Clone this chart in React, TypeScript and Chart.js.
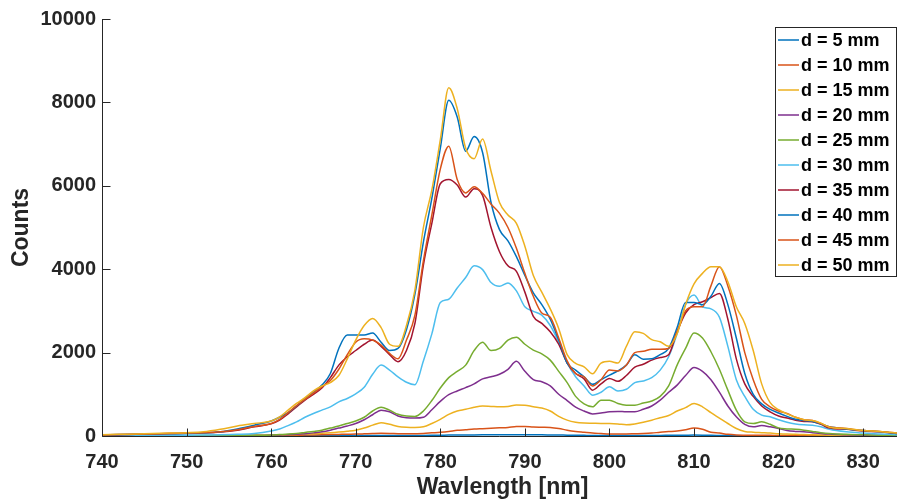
import React, { useEffect, useRef } from 'react';
import { Chart, registerables } from 'chart.js';

Chart.register(...registerables);

// Wavelength grid (nm)
const wavelengths = [
  740, 742, 744, 746, 748, 750, 752, 754, 756, 758,
  760, 761, 762, 763, 764, 765, 766, 767, 768, 769,
  770, 771, 772, 773, 774, 775, 776, 777, 778, 779,
  780, 781, 782, 783, 784, 785, 786, 787, 788, 789,
  790, 791, 792, 793, 794, 795, 796, 797, 798, 799,
  800, 801, 802, 803, 804, 805, 806, 807, 808, 809,
  810, 811, 812, 813, 814, 815, 816, 817, 818, 819,
  820, 821, 822, 823, 824, 825, 826,
  828, 830, 832, 834,
];

const d5 = [
  2, 2, 2, 3, 3, 3, 3, 4, 4, 5,
  5, 6, 6, 7, 7, 8, 8, 9, 9, 10,
  10, 11, 12, 12, 12, 11, 11, 12, 13, 15,
  18, 22, 24, 25, 26, 27, 28, 28, 29, 30,
  30, 29, 28, 26, 24, 20, 17, 15, 13, 12,
  11, 11, 11, 11, 12, 13, 14, 16, 18, 20,
  22, 20, 16, 13, 10, 8, 6, 5, 5, 4,
  4, 4, 3, 3, 3, 3, 3,
  2, 2, 2, 2,
];
const d10 = [
  2, 3, 3, 4, 5, 5, 6, 7, 8, 10,
  12, 14, 16, 18, 22, 26, 30, 34, 38, 42,
  45, 52, 60, 65, 62, 55, 52, 55, 60, 75,
  90, 110, 135, 150, 165, 175, 185, 195, 205, 230,
  230, 215, 210, 205, 180, 140, 110, 90, 70, 60,
  50, 48, 50, 55, 60, 70, 90, 105, 120, 150,
  190, 160, 90, 70, 40, 25, 20, 18, 16, 15,
  14, 13, 12, 11, 10, 10, 9,
  8, 7, 6, 5,
];
const d15 = [
  3, 4, 5, 5, 6, 7, 8, 10, 12, 15,
  20, 25, 30, 38, 46, 55, 65, 78, 95, 115,
  140, 190, 260, 320, 280, 230, 210, 205, 220, 300,
  400, 520, 600, 640, 690, 720, 710, 700, 710, 745,
  740, 700, 670, 600, 470, 380, 330, 310, 305, 300,
  300, 290, 270, 290, 330, 380, 440, 490, 600, 680,
  780, 700, 560, 430, 300, 180, 110, 90, 80, 70,
  55, 45, 40, 35, 30, 25, 20,
  15, 12, 10, 8,
];
const d20 = [
  4, 4, 5, 5, 6, 7, 8, 9, 10, 12,
  18, 25, 32, 40, 55, 75, 100, 140, 190, 240,
  300, 390, 510, 620, 580, 480, 440, 430, 450, 630,
  830, 990, 1080, 1160, 1250, 1370, 1420, 1480, 1600, 1790,
  1550, 1350, 1300, 1200, 1000, 850, 690, 600, 530, 550,
  580, 590, 580, 580, 640, 720, 860, 1050, 1220, 1450,
  1640, 1550, 1350, 1050, 720, 460, 280, 220, 250, 220,
  180, 130, 110, 100, 80, 60, 45,
  30, 20, 15, 10,
];
const d25 = [
  5, 5, 6, 6, 7, 8, 9, 10, 12, 15,
  25, 35, 45, 60, 85, 110, 140, 190, 240, 300,
  360, 450, 600, 690, 620, 520, 480, 470, 600, 850,
  1150, 1400, 1550, 1700, 2050, 2250, 2050, 2100, 2300, 2370,
  2200, 2060, 1970, 1820, 1550, 1280, 950, 770, 700, 860,
  860, 780, 740, 740, 790, 840, 950, 1200, 1700, 2100,
  2470, 2350, 2020, 1600, 1100, 620, 340, 300, 340, 280,
  190, 170, 160, 140, 110, 80, 60,
  40, 30, 20, 15,
];
const d30 = [
  10, 12, 14, 16, 18, 20, 25, 30, 40, 60,
  120, 170, 250, 340, 450, 540, 620, 700, 820, 900,
  1010, 1170, 1480, 1700, 1580, 1420, 1290, 1230, 1800, 2450,
  3200, 3280, 3550, 3800, 4080, 3990, 3680, 3590, 3670, 3480,
  3100, 2990, 2900, 2650, 2250, 1750, 1420, 1200, 980, 1050,
  1180, 1080, 1120, 1280, 1320, 1400, 1580, 1900, 2450, 3150,
  3380, 3100, 3050, 2850, 2150, 1350, 950, 640, 500, 460,
  390, 330, 290, 270, 260, 220, 160,
  100, 70, 50, 30,
];
const d35 = [
  20, 30, 40, 50, 60, 65, 75, 95, 140, 220,
  290, 380, 530, 700, 860, 1000, 1150, 1400, 1700, 1900,
  2050, 2200, 2300, 2150, 1950, 1780, 2050, 2700, 4100, 5100,
  6050, 6150, 6020, 5730, 5930, 5770, 5000, 4420, 4080, 3950,
  3450, 2870, 2700, 2500, 2200, 1750, 1500, 1370, 1100, 1250,
  1380, 1310, 1450, 1650, 1720, 1820, 1880, 1950, 2500, 2950,
  3150, 3220, 3320, 3420, 2800, 1850, 1250, 950, 720, 580,
  480, 430, 380, 350, 340, 280, 190,
  160, 120, 100, 60,
];
const d40 = [
  30, 35, 40, 50, 55, 60, 70, 100, 170, 260,
  360, 450, 560, 720, 890, 1050, 1220, 1500, 2100, 2420,
  2420, 2420, 2470, 2250, 2050, 2100, 2550, 3400, 4650, 5700,
  6900, 8050, 7650, 6830, 7180, 6800, 5600, 4950, 4680, 4300,
  3850, 3430, 3150, 2800, 2300, 1750, 1580, 1420, 1240, 1350,
  1460, 1560, 1700, 1950, 1840, 1850, 1950, 2100, 2600, 3200,
  3200, 3150, 3350, 3660, 3150, 2350, 1500, 1000, 770, 640,
  550, 470, 400, 370, 350, 290, 220,
  170, 130, 100, 60,
];
const d45 = [
  25, 35, 40, 50, 60, 70, 80, 100, 150, 230,
  300, 400, 560, 730, 880, 1030, 1180, 1330, 1600, 1950,
  2250, 2330, 2300, 2180, 1980, 1850, 2300, 2900, 4200, 5300,
  6400, 6950, 6150, 5830, 5980, 5820, 5560, 5340, 5000, 4500,
  3900, 3350, 2950, 2850, 2350, 1800, 1500, 1420, 1200, 1350,
  1580, 1560, 1700, 2000, 2030, 2080, 2080, 2100, 2500, 3000,
  3100, 3100, 3600, 4060, 3600, 2900, 2000, 1350, 880, 700,
  600, 540, 450, 390, 370, 300, 220,
  180, 130, 110, 70,
];
const d50 = [
  30, 40, 50, 60, 70, 80, 100, 160, 240, 300,
  360, 460, 620, 780, 920, 1080, 1200, 1280, 1450, 1850,
  2300, 2650, 2820, 2600, 2200, 2150, 2650, 3500, 5000, 5900,
  7100, 8350, 7850, 6900, 6650, 7120, 6350, 5600, 5300, 5100,
  4550, 3850, 3450, 3050, 2580, 1950, 1740, 1660, 1490, 1750,
  1790, 1750, 2150, 2500, 2460, 2310, 2260, 2150, 2450, 3150,
  3650, 3900, 4060, 4060, 3700, 3100, 2700, 2050, 1250, 800,
  630, 530, 450, 390, 370, 310, 210,
  180, 130, 110, 70,
];

const seriesLabels = [
  'd = 5 mm', 'd = 10 mm', 'd = 15 mm', 'd = 20 mm', 'd = 25 mm',
  'd = 30 mm', 'd = 35 mm', 'd = 40 mm', 'd = 45 mm', 'd = 50 mm',
];
const seriesValues = [d5, d10, d15, d20, d25, d30, d35, d40, d45, d50];
const seriesColors = [
  '#0072BD', '#D95319', '#EDB120', '#7E2F8E', '#77AC30',
  '#4DBEEE', '#A2142F', '#0072BD', '#D95319', '#EDB120',
];

const xTicks = [740, 750, 760, 770, 780, 790, 800, 810, 820, 830];
const yTicks = [0, 2000, 4000, 6000, 8000, 10000];
const xTitle = 'Wavlength [nm]';
const yTitle = 'Counts';

const FONT = '"Liberation Sans", Arial, Helvetica, sans-serif';
const AXIS_COLOR = '#262626';

const overlayPlugin = {
  id: 'matlabOverlay',
  afterDraw(chart: any) {
    const { ctx, chartArea: a, scales } = chart;
    const xs = scales.x;
    const ys = scales.y;
    ctx.save();
    ctx.strokeStyle = AXIS_COLOR;
    ctx.lineWidth = 1;
    ctx.beginPath();
    const left = Math.round(a.left) + 0.5;
    const bottom = Math.round(a.bottom) + 0.5;
    ctx.moveTo(left, Math.round(a.top));
    ctx.lineTo(left, bottom);
    ctx.lineTo(a.right, bottom);
    ctx.stroke();
    // inward ticks
    ctx.beginPath();
    for (const v of xTicks) {
      const px = Math.round(xs.getPixelForValue(v)) + 0.5;
      ctx.moveTo(px, bottom);
      ctx.lineTo(px, bottom - 8);
    }
    for (const v of yTicks) {
      const py = Math.round(ys.getPixelForValue(v)) + 0.5;
      ctx.moveTo(left, py);
      ctx.lineTo(left + 8, py);
    }
    ctx.stroke();

    // axis titles
    ctx.fillStyle = AXIS_COLOR;
    ctx.font = `bold 23px ${FONT}`;
    ctx.textAlign = 'center';
    ctx.textBaseline = 'middle';
    ctx.fillText(xTitle, (a.left + a.right) / 2 + 3, 488);
    ctx.save();
    ctx.translate(22, (a.top + a.bottom) / 2);
    ctx.rotate(-Math.PI / 2);
    ctx.fillText(yTitle, 0, 0);
    ctx.restore();

    // legend
    const bx = 775.5, by = 27.5, bw = 121, bh = 249;
    ctx.fillStyle = '#ffffff';
    ctx.fillRect(bx, by, bw, bh);
    ctx.strokeStyle = AXIS_COLOR;
    ctx.lineWidth = 1;
    ctx.strokeRect(bx, by, bw, bh);
    ctx.font = `bold 18px ${FONT}`;
    ctx.textAlign = 'left';
    ctx.textBaseline = 'middle';
    seriesLabels.forEach((lbl, i) => {
      const cy = 40 + 25 * i;
      ctx.strokeStyle = seriesColors[i];
      ctx.lineWidth = 1.5;
      ctx.beginPath();
      ctx.moveTo(778, cy);
      ctx.lineTo(799, cy);
      ctx.stroke();
      ctx.fillStyle = '#000000';
      ctx.fillText(lbl, 801, cy + 1);
    });
    ctx.restore();
  },
};

export default function App() {
  const canvasRef = useRef<HTMLCanvasElement | null>(null);

  useEffect(() => {
    const canvas = canvasRef.current;
    if (!canvas) return;
    const datasets = seriesValues.map((vals, i) => ({
      label: seriesLabels[i],
      data: wavelengths.map((w, k) => ({ x: w, y: vals[k] })),
      borderColor: seriesColors[i],
      backgroundColor: seriesColors[i],
      borderWidth: 1.5,
      pointRadius: 0,
      cubicInterpolationMode: 'monotone' as const,
      fill: false,
      order: seriesValues.length - i,
    }));

    const chart = new Chart(canvas, {
      type: 'line',
      data: { datasets },
      options: {
        responsive: false,
        animation: false,
        devicePixelRatio: 1,
        layout: { padding: { top: 19, right: 1, left: 0, bottom: 0 } },
        plugins: {
          legend: { display: false },
          tooltip: { enabled: false },
        },
        scales: {
          x: {
            type: 'linear',
            min: 740,
            max: 834,
            grid: { display: false, drawTicks: false },
            border: { display: false },
            ticks: {
              font: { family: FONT, size: 20, weight: 'bold' },
              color: AXIS_COLOR,
              padding: 14,
              maxRotation: 0,
              autoSkip: false,
              includeBounds: false,
              callback: (v: any) => String(v),
            },
            afterBuildTicks: (scale: any) => {
              scale.ticks = xTicks.map((v) => ({ value: v }));
            },
            afterFit: (scale: any) => {
              scale.height = 64;
            },
          },
          y: {
            type: 'linear',
            min: 0,
            max: 10000,
            grid: { display: false, drawTicks: false },
            border: { display: false },
            ticks: {
              font: { family: FONT, size: 20, weight: 'bold' },
              color: AXIS_COLOR,
              padding: 6,
              autoSkip: false,
              callback: (v: any) => String(v),
            },
            afterBuildTicks: (scale: any) => {
              scale.ticks = yTicks.map((v) => ({ value: v }));
            },
            afterFit: (scale: any) => {
              scale.width = 102;
            },
          },
        },
      },
      plugins: [overlayPlugin],
    });
    return () => chart.destroy();
  }, []);

  return (
    <div style={{ position: 'fixed', left: 0, top: 0, width: 898, height: 500, background: '#fff' }}>
      <canvas ref={canvasRef} width={898} height={500} style={{ display: 'block', width: 898, height: 500 }} />
    </div>
  );
}
